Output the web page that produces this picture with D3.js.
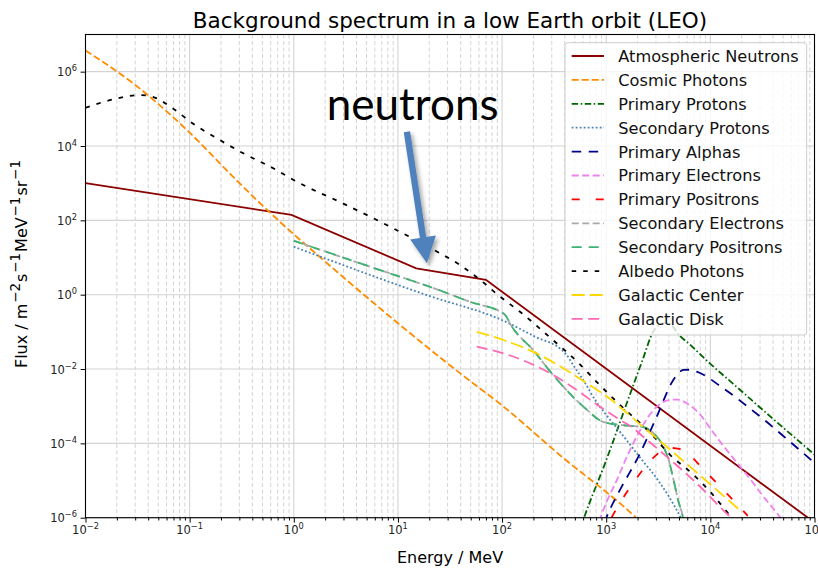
<!DOCTYPE html>
<html>
<head>
<meta charset="utf-8">
<script src="https://cdn.jsdelivr.net/npm/d3@7/dist/d3.min.js"></script>
<style>
    body { margin: 0; background: #fff; }
    svg { font-family: 'DejaVu Sans', sans-serif; }
</style>
</head>
<body>
<div id="chart"></div>
<script>
// energies in MeV, fluxes in m^-2 s^-1 MeV^-1 sr^-1
const neutronE = [0.01, 0.95, 15, 70, 1e5];
const neutronF = [1000, 141, 5.1, 2.5, 7.4e-7];

const cosmicPhotonE = [0.01, 0.03, 0.094, 0.28, 0.44, 0.74, 1.92, 45.7, 99, 360, 1890, 2500];
const cosmicPhotonF = [3.7e6, 4.4e5, 2.7e4, 1220, 353, 90, 8.6, 5.6e-3, 1.07e-3, 4.8e-5, 1.06e-6, 5e-7];

const primProtonE = [562, 631, 1000, 1585, 2239, 2818, 3311, 3802, 4365, 4786, 6310, 10000, 16596, 34674, 1e5];
const primProtonF = [5e-7, 1.26e-6, 3.5e-5, 1.26e-3, 0.0178, 0.1, 0.158, 0.178, 0.141, 0.0955, 0.0468, 0.0138, 3.98e-3, 6.46e-4, 5e-5];

const secProtonE = [1, 18.9, 102.8, 215, 360, 417, 483, 603, 811, 1012, 1459, 2109, 3162, 5129, 5623];
const secProtonF = [19.5, 0.977, 0.2, 0.0708, 0.0355, 0.024, 0.0126, 5.0e-3, 1.26e-3, 5.6e-4, 1.58e-4, 4.17e-5, 1e-5, 1.07e-6, 6.3e-7];

const alphaE = [955, 1012, 1409, 2037, 3055, 4406, 5012, 5495, 6310, 7396, 13335, 23988, 34674, 50119, 97724];
const alphaF = [7.1e-7, 1.07e-6, 6.84e-6, 4.39e-5, 5.22e-4, 5.08e-3, 8.1e-3, 9.44e-3, 9.55e-3, 8.5e-3, 3.02e-3, 8.7e-4, 3.8e-4, 1.58e-4, 3.16e-5];

const primElectronE = [851, 1000, 1259, 1585, 1995, 2512, 3162, 3981, 4786, 6026, 7943, 10000, 13183, 17783, 23988, 31623, 43652, 50119];
const primElectronF = [7.9e-7, 2.5e-6, 1e-5, 4.47e-5, 1.66e-4, 5.0e-4, 1.05e-3, 1.45e-3, 1.51e-3, 1.17e-3, 6.0e-4, 2.5e-4, 8.9e-5, 3.16e-5, 1.12e-5, 4e-6, 1.32e-6, 7.9e-7];

const primPositronE = [1122, 1318, 1778, 2455, 3162, 3981, 5012, 6026, 8511, 12303, 18621, 22909];
const primPositronF = [1e-6, 2.19e-6, 7.94e-6, 2.63e-5, 5.37e-5, 7.59e-5, 7.08e-5, 5.37e-5, 2.04e-5, 7.08e-6, 2.09e-6, 1.12e-6];

const secElectronE = [1, 6.76, 21.9, 49, 105, 124, 200, 309, 631, 933, 1585, 2291, 2818, 3548, 3981, 4365, 4898, 5433, 5623];
const secElectronF = [28.2, 4.57, 1.51, 0.646, 0.30, 0.138, 0.0316, 6.9e-3, 8.7e-4, 3.8e-4, 3.0e-4, 2.75e-4, 1.9e-4, 8.1e-5, 3.55e-5, 1.26e-5, 3.0e-6, 1.07e-6, 6.3e-7];

const secPositronE = [1, 6.76, 21.9, 49, 105, 124, 200, 309, 631, 933, 1585, 2291, 2818, 3548, 3981, 4365, 4898, 5433, 5623];
const secPositronF = [28.2, 4.57, 1.51, 0.646, 0.30, 0.138, 0.0316, 6.9e-3, 8.7e-4, 3.8e-4, 3.0e-4, 2.75e-4, 1.9e-4, 8.1e-5, 3.55e-5, 1.26e-5, 3.0e-6, 1.07e-6, 6.3e-7];

const albedoE = [0.01, 0.02, 0.0333, 0.0433, 0.0697, 0.108, 0.182, 0.305, 0.635, 1.067, 2.99, 8.39, 23.6, 39.4, 61.4, 95.5, 148.6, 288, 562, 832, 1259, 2754, 4074, 6918, 10233, 14791, 16596];
const albedoF = [1.07e5, 1.9e5, 2.34e5, 2.14e5, 1.0e5, 3.98e4, 1.62e4, 7080, 2510, 1100, 282, 67.6, 14.5, 6.31, 2.51, 0.891, 0.347, 0.0708, 0.0132, 4.17e-3, 1.32e-3, 1.7e-4, 5.0e-5, 1.41e-5, 4.57e-6, 1.32e-6, 8.9e-7];

const galCenterE = [57.1, 102.8, 215, 387, 650, 1086, 1995, 3811, 10000, 19953];
const galCenterF = [0.1, 0.0603, 0.0263, 0.0105, 4.17e-3, 1.58e-3, 3.72e-4, 8.1e-5, 7.9e-6, 1.45e-6];

const galDiskE = [57.1, 102.8, 185, 310, 521, 871, 1358, 1820, 2270, 3811, 7943, 13335, 15849];
const galDiskF = [0.04, 0.0265, 0.0143, 6.9e-3, 2.73e-3, 9.7e-4, 4.27e-4, 2.57e-4, 1.51e-4, 4.39e-5, 6.9e-6, 1.58e-6, 1e-6];

const xTicks = [1e-2, 1e-1, 1, 1e1, 1e2, 1e3, 1e4, 1e5];
const xTickExps = ['\u22122', '\u22121', '0', '1', '2', '3', '4', '5'];
const yTicks = [1e-6, 1e-4, 1e-2, 1, 1e2, 1e4, 1e6];
const yTickExps = ['\u22126', '\u22124', '\u22122', '0', '2', '4', '6'];

const names = [
    'Atmospheric Neutrons', 'Cosmic Photons', 'Primary Protons', 'Secondary Protons',
    'Primary Alphas', 'Primary Electrons', 'Primary Positrons', 'Secondary Electrons',
    'Secondary Positrons', 'Albedo Photons', 'Galactic Center', 'Galactic Disk'
];

const series = [
    { e: neutronE, f: neutronF, color: '#8b0000', dash: null, curve: d3.curveLinear },
    { e: cosmicPhotonE, f: cosmicPhotonF, color: '#ff8c00', dash: '7,3' },
    { e: primProtonE, f: primProtonF, color: '#006400', dash: '6.5,2.5,1.5,2.5' },
    { e: secProtonE, f: secProtonF, color: '#4682b4', dash: '1.8,2.2' },
    { e: alphaE, f: alphaF, color: '#00008b', dash: '9.5,7.5' },
    { e: primElectronE, f: primElectronF, color: '#ee82ee', dash: '7,3.5' },
    { e: primPositronE, f: primPositronF, color: '#ff0000', dash: '8,16' },
    { e: secElectronE, f: secElectronF, color: '#a9a9a9', dash: '7,3.5' },
    { e: secPositronE, f: secPositronF, color: '#3cb371', dash: '10,7' },
    { e: albedoE, f: albedoF, color: '#000000', dash: '4.5,7' },
    { e: galCenterE, f: galCenterF, color: '#ffd700', dash: '13,5' },
    { e: galDiskE, f: galDiskF, color: '#ff69b4', dash: '11,5.5' }
];

const width = 818;
const height = 569;
const margins = { top: 34.5, left: 85.5, right: 3.5, bottom: 51.3 };
const chartWidth = width - margins.left - margins.right;
const chartHeight = height - margins.top - margins.bottom;

const svg = d3.select('#chart')
    .append('svg')
    .attr('width', width)
    .attr('height', height);

const xScale = d3.scaleLog()
    .domain([1e-2, 1e5])
    .range([0, chartWidth]);

const yScale = d3.scaleLog()
    .domain([1e-6, 1e7])
    .range([chartHeight, 0]);

const isDecade = v => Math.abs(Math.log10(v) - Math.round(Math.log10(v))) < 1e-6;
const xMinor = xScale.ticks().filter(v => !isDecade(v));

svg.append('defs')
    .append('clipPath')
    .attr('id', 'plot-clip')
    .append('rect')
    .attr('width', chartWidth)
    .attr('height', chartHeight);

const shadow = svg.select('defs')
    .append('filter')
    .attr('id', 'arrow-shadow')
    .attr('x', '-50%').attr('y', '-50%')
    .attr('width', '200%').attr('height', '200%');
shadow.append('feDropShadow')
    .attr('dx', 2.5).attr('dy', 3)
    .attr('stdDeviation', 2)
    .attr('flood-color', '#000')
    .attr('flood-opacity', 0.35);

const chart = svg.append('g')
    .attr('transform', `translate(${margins.left}, ${margins.top})`);

// grid: dashed minor verticals, solid major lines
chart.append('g')
    .selectAll('line')
    .data(xMinor)
    .enter()
    .append('line')
    .attr('x1', d => xScale(d)).attr('x2', d => xScale(d))
    .attr('y1', 0).attr('y2', chartHeight)
    .attr('stroke', '#d4d4d4')
    .attr('stroke-width', 1)
    .attr('stroke-dasharray', '4,2.5');

chart.append('g')
    .selectAll('line')
    .data(xTicks)
    .enter()
    .append('line')
    .attr('x1', d => xScale(d)).attr('x2', d => xScale(d))
    .attr('y1', 0).attr('y2', chartHeight)
    .attr('stroke', '#d3d3d3')
    .attr('stroke-width', 1.1);

chart.append('g')
    .selectAll('line')
    .data(yTicks)
    .enter()
    .append('line')
    .attr('x1', 0).attr('x2', chartWidth)
    .attr('y1', d => yScale(d)).attr('y2', d => yScale(d))
    .attr('stroke', '#d3d3d3')
    .attr('stroke-width', 1.1);

// spectra
const lines = chart.append('g')
    .attr('clip-path', 'url(#plot-clip)');

series.forEach(s => {
    const pts = s.e.map((e, i) => [e, s.f[i]]);
    const line = d3.line()
        .x(d => xScale(d[0]))
        .y(d => yScale(d[1]))
        .curve(s.curve || d3.curveMonotoneX);
    lines.append('path')
        .datum(pts)
        .attr('d', line)
        .attr('fill', 'none')
        .attr('stroke', s.color)
        .attr('stroke-width', 1.8)
        .attr('stroke-dasharray', s.dash);
});

// axes
const xAxis = d3.axisBottom(xScale)
    .tickValues(xTicks)
    .tickSize(4.9)
    .tickSizeOuter(0)
    .tickFormat('');

const xAxisMinor = d3.axisBottom(xScale)
    .tickValues(xMinor)
    .tickSize(2.8)
    .tickSizeOuter(0)
    .tickFormat('');

const yAxis = d3.axisLeft(yScale)
    .tickValues(yTicks)
    .tickSize(4.9)
    .tickSizeOuter(0)
    .tickFormat('');

[xAxis, xAxisMinor].forEach(ax => {
    chart.append('g')
        .attr('transform', `translate(0, ${chartHeight})`)
        .call(ax)
        .call(g => g.select('.domain').remove())
        .selectAll('line')
        .attr('stroke-width', 1);
});

chart.append('g')
    .call(yAxis)
    .call(g => g.select('.domain').remove())
    .selectAll('line')
    .attr('stroke-width', 1);

chart.append('rect')
    .attr('width', chartWidth)
    .attr('height', chartHeight)
    .attr('fill', 'none')
    .attr('stroke', '#000')
    .attr('stroke-width', 1.1);

function powerLabel(sel, exp, size) {
    sel.style('font-size', size + 'px');
    sel.append('tspan').text('10');
    sel.append('tspan')
        .attr('dy', -size * 0.42)
        .style('font-size', (size * 0.72) + 'px')
        .text(exp);
}

xTicks.forEach((v, i) => {
    chart.append('text')
        .attr('x', xScale(v))
        .attr('y', chartHeight + 16.5)
        .attr('text-anchor', 'middle')
        .attr('fill', '#222')
        .call(powerLabel, xTickExps[i], 11.5);
});

yTicks.forEach((v, i) => {
    chart.append('text')
        .attr('x', -8.5)
        .attr('y', yScale(v) + 4.5)
        .attr('text-anchor', 'end')
        .attr('fill', '#222')
        .call(powerLabel, yTickExps[i], 11.5);
});

// title and axis labels
svg.append('text')
    .attr('x', margins.left + chartWidth / 2)
    .attr('y', 28.3)
    .attr('text-anchor', 'middle')
    .style('font-size', '21.5px')
    .text('Background spectrum in a low Earth orbit (LEO)');

svg.append('text')
    .attr('x', margins.left + chartWidth / 2)
    .attr('y', 563.3)
    .attr('text-anchor', 'middle')
    .style('font-size', '16px')
    .text('Energy / MeV');

const yLabel = svg.append('text')
    .attr('transform', 'translate(26.5, 264) rotate(-90)')
    .attr('text-anchor', 'middle')
    .style('font-size', '16px');

const labelParts = [
    ['Flux / m', false], ['\u22122', true], ['s', false], ['\u22121', true],
    ['MeV', false], ['\u22121', true], ['sr', false], ['\u22121', true]
];
labelParts.forEach((p, i) => {
    const t = yLabel.append('tspan').text(p[0]);
    if (p[1]) {
        t.attr('dy', -6.5).attr('dx', 0.8).style('font-size', '13.5px');
    } else if (i > 0) {
        t.attr('dy', 6.5).attr('dx', 1);
    }
});

// annotation pointing at the neutron spectrum
const tail = [xScale(12.2), yScale(2.43e4)];
const tip = [xScale(19), yScale(7)];
const dx = tip[0] - tail[0];
const dy = tip[1] - tail[1];
const len = Math.hypot(dx, dy);
const ux = dx / len, uy = dy / len;
const px = -uy, py = ux;
const headLen = 26, headHalf = 13, shaftHalf = 3.2;
const neck = [tip[0] - ux * headLen, tip[1] - uy * headLen];

chart.append('path')
    .attr('d', d3.line()([
        [tail[0] + px * shaftHalf, tail[1] + py * shaftHalf],
        [neck[0] + px * shaftHalf, neck[1] + py * shaftHalf],
        [neck[0] + px * headHalf, neck[1] + py * headHalf],
        tip,
        [neck[0] - px * headHalf, neck[1] - py * headHalf],
        [neck[0] - px * shaftHalf, neck[1] - py * shaftHalf],
        [tail[0] - px * shaftHalf, tail[1] - py * shaftHalf]
    ]) + 'Z')
    .attr('fill', '#4f81bd')
    .attr('filter', 'url(#arrow-shadow)');

const note = chart.append('text')
    .attr('x', xScale(2.07))
    .attr('y', yScale(5e4))
    .style('font-family', 'Lato, "Open Sans", sans-serif')
    .style('font-size', '44px')
    .attr('fill', '#000')
    .text('neutrons');
const noteLen = note.node().getComputedTextLength();
note.style('font-size', (44 * 172 / noteLen) + 'px');

// legend
const legend = svg.append('g')
    .attr('transform', 'translate(565, 42.7)');

legend.append('rect')
    .attr('width', 241.7)
    .attr('height', 292.3)
    .attr('rx', 3)
    .attr('fill', '#fff')
    .attr('fill-opacity', 0.8)
    .attr('stroke', '#cccccc')
    .attr('stroke-width', 1);

series.forEach((s, i) => {
    const rowY = 13.3 + i * 23.9;
    legend.append('line')
        .attr('x1', 6.7).attr('x2', 39)
        .attr('y1', rowY).attr('y2', rowY)
        .attr('stroke', s.color)
        .attr('stroke-width', 1.8)
        .attr('stroke-dasharray', s.dash);
    legend.append('text')
        .attr('x', 53.3)
        .attr('y', rowY + 6)
        .style('font-size', '16.2px')
        .attr('fill', '#111')
        .text(names[i]);
});
</script>
</body>
</html>
